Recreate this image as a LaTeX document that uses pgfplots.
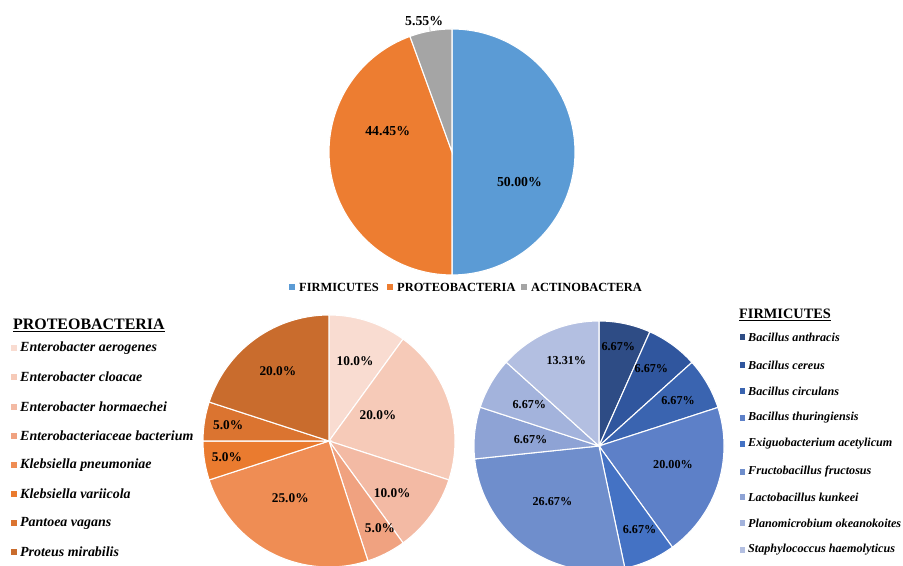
\documentclass[border=0pt]{standalone}
\usepackage{pgfplots}
\pgfplotsset{compat=1.18}
\usepgfplotslibrary{polar}
\usepackage{fontspec}
\setmainfont{Liberation Serif}

% top pie
\definecolor{fir}{HTML}{5B9BD5}
\definecolor{pro}{HTML}{ED7D31}
\definecolor{act}{HTML}{A5A5A5}
% proteobacteria shades
\definecolor{p1}{HTML}{F9DCD1}
\definecolor{p2}{HTML}{F6CAB8}
\definecolor{p3}{HTML}{F3BAA4}
\definecolor{p4}{HTML}{F0A280}
\definecolor{p5}{HTML}{EF8D54}
\definecolor{p6}{HTML}{EA7B2F}
\definecolor{p7}{HTML}{DB7430}
\definecolor{p8}{HTML}{C96C2D}
% firmicutes shades
\definecolor{b1}{HTML}{2E4C85}
\definecolor{b2}{HTML}{30569E}
\definecolor{b3}{HTML}{3A64B0}
\definecolor{b4}{HTML}{5D80C8}
\definecolor{b5}{HTML}{4472C4}
\definecolor{b6}{HTML}{6F8ECC}
\definecolor{b7}{HTML}{8EA3D5}
\definecolor{b8}{HTML}{A3B3DC}
\definecolor{b9}{HTML}{B3BFE1}

% value/colour/label angle/label radius/label text, clockwise from 12 o'clock
\newcommand{\pie}[1]{%
  \gdef\cur{90}%
  \foreach \v/\c/\la/\lr/\t in {#1}{%
    \pgfmathsetmacro{\nxt}{\cur-3.6*\v}%
    \edef\temp{\noexpand\addplot[fill=\c, draw=white, line width=1.1pt,
      domain=\nxt:\cur, samples=72] {1} -- (axis cs:0,0) -- cycle;}%
    \temp
    \xdef\cur{\nxt}%
  }%
  \foreach \v/\c/\la/\lr/\t in {#1}{%
    \edef\temp{\noexpand\node[font=\noexpand\lblfont] at (axis cs:\la,\lr) {\t};}%
    \temp
  }%
}

\pgfplotsset{pieax/.style={scale only axis, hide axis, clip=false,
  xmin=0, xmax=360, ymin=0, ymax=1, enlargelimits=false, anchor=origin}}

\begin{document}
\begin{tikzpicture}[x=1bp, y=1bp]
\clip (0,0) rectangle (903,566);
\fill[white] (0,0) rectangle (903,566);

% top pie: phyla
\def\lblfont{\fontsize{13.8}{16}\selectfont\bfseries}
\begin{polaraxis}[pieax, at={(452bp,414bp)}, width=246bp, height=246bp]
\pie{50.00/fir/-24/0.60/50.00\%, 44.45/pro/162/0.55/44.45\%, 5.55/act/102/1.09/5.55\%}
\draw[black!45, line width=0.5pt] (axis cs:100.3,1.0) -- (axis cs:100,1.035);
\end{polaraxis}

% bottom left pie: proteobacteria
\def\lblfont{\fontsize{13.4}{16}\selectfont\bfseries}
\begin{polaraxis}[pieax, at={(329bp,125bp)}, width=252bp, height=252bp]
\pie{10/p1/72/0.67/10.0\%, 20/p2/28/0.44/20.0\%, 10/p3/-39.5/0.65/10.0\%,
  5/p4/-59.6/0.80/5.0\%, 25/p5/-124/0.55/25.0\%, 5/p6/-171/0.82/5.0\%,
  5/p7/171/0.81/5.0\%, 20/p8/126/0.69/20.0\%}
\end{polaraxis}

% bottom right pie: firmicutes
\def\lblfont{\fontsize{12.2}{14}\selectfont\bfseries}
\begin{polaraxis}[pieax, at={(599bp,120bp)}, width=250bp, height=250bp]
\pie{6.67/b1/79/0.81/6.67\%, 6.67/b2/56/0.75/6.67\%, 6.67/b3/30/0.73/6.67\%,
  20.00/b4/-14/0.61/20.00\%, 6.67/b5/-64/0.74/6.67\%, 26.67/b6/-130/0.58/26.67\%,
  6.67/b7/175/0.55/6.67\%, 6.67/b8/149/0.65/6.67\%, 13.31/b9/111/0.73/13.31\%}
\end{polaraxis}

% legend of the top pie
\begin{scope}[every node/.style={font=\fontsize{12.5}{14}\selectfont\bfseries, inner sep=0pt, anchor=west}]
\foreach \c/\x/\t in {fir/292/FIRMICUTES, pro/390/PROTEOBACTERIA, act/524/ACTINOBACTERA}{
  \fill[\c] (\x-2.8,276.2) rectangle (\x+2.8,281.8);
  \node at (\x+7,279) {\t};
}
\end{scope}

% legend of proteobacteria
\node[font=\fontsize{16}{18}\selectfont\bfseries, inner sep=0pt, anchor=west] at (13,241) {\underline{PROTEOBACTERIA}};
\begin{scope}[every node/.style={font=\fontsize{14}{16}\selectfont\bfseries\itshape, inner sep=0pt, anchor=west}]
\foreach \c/\y/\t in {p1/218/Enterobacter aerogenes, p2/189/Enterobacter cloacae,
  p3/159/Enterobacter hormaechei, p4/130/Enterobacteriaceae bacterium,
  p5/101/Klebsiella pneumoniae, p6/72/Klebsiella variicola,
  p7/43/Pantoea vagans, p8/14/Proteus mirabilis}{
  \fill[\c] (10.5,\y-3) rectangle (16.5,\y+3);
  \node at (20,\y) {\t};
}
\end{scope}

% legend of firmicutes
\node[font=\fontsize{14.4}{16}\selectfont\bfseries, inner sep=0pt, anchor=west] at (739,251) {\underline{FIRMICUTES}};
\begin{scope}[every node/.style={font=\fontsize{12.2}{14}\selectfont\bfseries\itshape, inner sep=0pt, anchor=west}]
\foreach \c/\y/\t in {b1/229/Bacillus anthracis, b2/201/Bacillus cereus,
  b3/175/Bacillus circulans, b4/148/Bacillus thuringiensis,
  b5/122/Exiguobacterium acetylicum, b6/94/Fructobacillus fructosus,
  b7/69/Lactobacillus kunkeei, b8/43/Planomicrobium okeanokoites,
  b9/16/Staphylococcus haemolyticus}{
  \fill[\c] (740,\y-2.7) rectangle (745.4,\y+2.7);
  \node at (748,\y) {\t};
}
\end{scope}
\end{tikzpicture}
\end{document}
